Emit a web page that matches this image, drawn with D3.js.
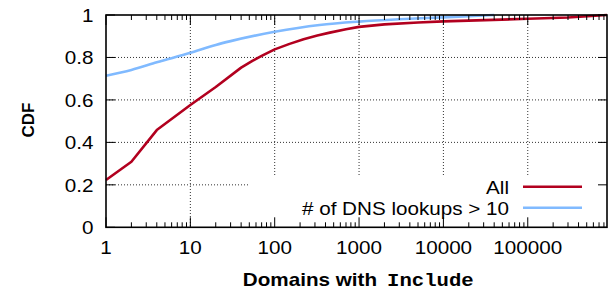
<!DOCTYPE html>
<html>
<head>
<meta charset="utf-8">
<script src="https://cdn.jsdelivr.net/npm/d3@7"></script>
<style>
  body { margin: 0; background: #fff; }
  text { font-family: "Liberation Sans", Arial, sans-serif; fill: #000; }
</style>
</head>
<body>
<svg id="chart" width="608" height="291"></svg>
<script>
// CDF of domains with include
var allX  = [1, 2, 4, 10, 20, 40, 55, 70, 100, 150, 220, 320, 450, 700, 1000, 2000, 5000, 10000, 100000, 300000, 870000];
var allY  = [0.223, 0.309, 0.458, 0.576, 0.661, 0.752, 0.785, 0.807, 0.838, 0.864, 0.886, 0.903, 0.917, 0.933, 0.944, 0.956, 0.965, 0.970, 0.982, 0.988, 1.0];
var dnsX  = [1, 2, 4, 10, 20, 30, 100, 340, 1000, 3000, 10000, 40000];
var dnsY  = [0.714, 0.741, 0.777, 0.822, 0.859, 0.877, 0.921, 0.953, 0.969, 0.980, 0.989, 1.0];
var xTicks = [1, 10, 100, 1000, 10000, 100000];
var yTicks = [0, 0.2, 0.4, 0.6, 0.8, 1];
var seriesNames = ["All", "# of DNS lookups > 10"];
var colors = ["#b2001f", "#80baff"];

var svg = d3.select("#chart");
// plot frame (note: "top" is taken by window.top)
var pL = 106, pR = 607, pT = 15, pB = 227.3;
var sx = 1.18; // text in the picture is a bit wide

var x = d3.scaleLog().domain([1, 870000]).range([pL, pR]);
var y = d3.scaleLinear().domain([0, 1]).range([pB, pT]);

function label(g, tx, ty, str, anchor, size, weight) {
    return g.append("text")
	.attr("transform", "translate(" + tx + "," + ty + ") scale(" + sx + ",1)")
	.attr("text-anchor", anchor)
	.style("font-size", size + "px")
	.style("font-weight", weight || "normal")
	.text(str);
}

// grid
var grid = svg.append("g")
    .attr("stroke", "#333").attr("stroke-width", 1).attr("stroke-dasharray", "1,2");
xTicks.slice(1).forEach(function(t){
    grid.append("line").attr("x1", x(t)).attr("x2", x(t)).attr("y1", pT).attr("y2", pB);
});
yTicks.slice(1, -1).forEach(function(t){
    grid.append("line").attr("x1", pL).attr("x2", pR).attr("y1", y(t)).attr("y2", y(t));
});

// legend box hides the grid
svg.append("rect").attr("x", 250).attr("y", 175).attr("width", pR - 250).attr("height", pB - 175)
    .attr("fill", "#fff");

// lines
var series = [d3.zip(allX, allY), d3.zip(dnsX, dnsY)];
var curves = [d3.curveLinear, d3.curveMonotoneX];
[1, 0].forEach(function(i){
    var line = d3.line().x(d => x(d[0])).y(d => y(d[1])).curve(curves[i]);
    svg.append("path").datum(series[i])
	.attr("d", line)
	.attr("fill", "none")
	.attr("stroke", colors[i])
	.attr("stroke-width", 2.6)
	.attr("stroke-linejoin", "round");
});

// ticks (mirrored on all sides)
var ticks = svg.append("g").attr("stroke", "#000").attr("stroke-width", 1);
var minor = [];
for (var e = 0; e < 6; e++) for (var m = 2; m <= 9; m++) {
    var v = m * Math.pow(10, e);
    if (v <= 870000) minor.push(v);
}
minor.forEach(function(t){
    ticks.append("line").attr("x1", x(t)).attr("x2", x(t)).attr("y1", pB).attr("y2", pB - 5);
    ticks.append("line").attr("x1", x(t)).attr("x2", x(t)).attr("y1", pT).attr("y2", pT + 5);
});
xTicks.forEach(function(t){
    ticks.append("line").attr("x1", x(t)).attr("x2", x(t)).attr("y1", pB).attr("y2", pB - 10);
    ticks.append("line").attr("x1", x(t)).attr("x2", x(t)).attr("y1", pT).attr("y2", pT + 10);
});
yTicks.forEach(function(t){
    ticks.append("line").attr("x1", pL).attr("x2", pL + 9).attr("y1", y(t)).attr("y2", y(t));
    ticks.append("line").attr("x1", pR).attr("x2", pR - 9).attr("y1", y(t)).attr("y2", y(t));
});

// border
svg.append("rect").attr("x", pL).attr("y", pT).attr("width", pR - pL).attr("height", pB - pT)
    .attr("fill", "none").attr("stroke", "#000").attr("stroke-width", 1.6);

// tick labels
xTicks.forEach(function(t){ label(svg, x(t), 254, String(t), "middle", 17.5); });
yTicks.forEach(function(t){ label(svg, 93.5, y(t) + 7, String(t), "end", 17.5); });

// axis titles
svg.append("text")
    .attr("transform", "translate(34,120) rotate(-90)")
    .attr("text-anchor", "middle")
    .style("font-size", "17px").style("font-weight", "bold")
    .text("CDF");
label(svg, 377, 286, "Domains with", "end", 17.5, "bold");
label(svg, 387, 286, "Include", "start", 17.5, "bold")
    .style("font-family", "'Liberation Mono', monospace");

// legend
seriesNames.forEach(function(n, i){
    var ly = 186.7 + i * 21;
    label(svg, 509, ly + 7, n, "end", 17.5);
    svg.append("line").attr("x1", 523).attr("x2", 582).attr("y1", ly).attr("y2", ly)
	.attr("stroke", colors[i]).attr("stroke-width", 2.6);
});
</script>
</body>
</html>
